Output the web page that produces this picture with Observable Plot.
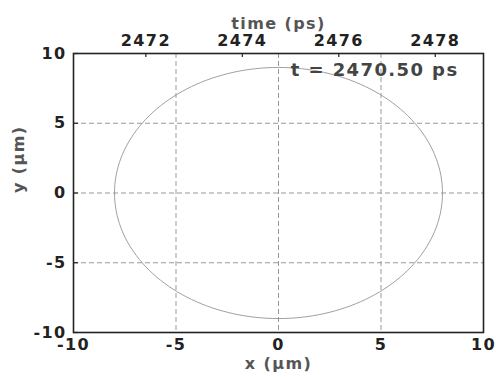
<!DOCTYPE html>
<html><head><meta charset="utf-8">
<script src="https://cdn.jsdelivr.net/npm/d3@7"></script>
<script src="https://cdn.jsdelivr.net/npm/@observablehq/plot@0.6"></script>
<style>body{margin:0;background:#fff} svg text{letter-spacing:1.4px}</style>
</head><body><div id="chart"></div>
<script>
const xDomain = [-10, 10];
const yDomain = [-10, 10];
const xTicks = [-10, -5, 0, 5, 10];
const yTicks = [-10, -5, 0, 5, 10];
const gridTicks = [-5, 0, 5];
const timeDomain = [2470.5, 2479];
const timeTicks = [2472, 2474, 2476, 2478];
const ellipseCenter = [0, 0];
const ellipseRadii = [8, 9];
const timeLabel = "t = 2470.50 ps";

const timeToX = d3.scaleLinear().domain(timeDomain).range(xDomain);
const angles = d3.range(0, 361, 2);
const ellipse = angles.map(a => ({
  x: ellipseCenter[0] + ellipseRadii[0] * Math.cos(a * Math.PI / 180),
  y: ellipseCenter[1] + ellipseRadii[1] * Math.sin(a * Math.PI / 180)
}));
const font = "DejaVu Sans, Verdana, sans-serif";

const chart = Plot.plot({
  width: 496, height: 377,
  marginLeft: 73, marginRight: 13, marginTop: 53, marginBottom: 45,
  style: {fontFamily: font, fontWeight: "bold", fontSize: "16px", color: "#222", background: "#fff"},
  x: {domain: xDomain},
  y: {domain: yDomain},
  marks: [
    Plot.gridX(gridTicks, {stroke: "#999", strokeOpacity: 1, strokeDasharray: "5,3"}),
    Plot.gridY(gridTicks, {stroke: "#999", strokeOpacity: 1, strokeDasharray: "5,3"}),
    Plot.line(ellipse, {x: "x", y: "y", stroke: "#a0a0a0", strokeWidth: 1, curve: "linear"}),
    Plot.ruleY(yTicks, {x1: -10, x2: -9.75, stroke: "#222", strokeWidth: 1.2}),
    Plot.ruleX(timeTicks.map(t => timeToX(t)), {y1: 10, y2: 9.72, stroke: "#222", strokeWidth: 1.2}),
    Plot.frame({stroke: "#222", strokeWidth: 1.6}),
    Plot.axisX(xTicks, {anchor: "bottom", tickSize: 0, tickPadding: 6, label: null, tickFormat: d => String(d),
      fontSize: 16, fontWeight: "bold", fill: "#222"}),
    Plot.axisY(yTicks, {anchor: "left", tickSize: 0, tickPadding: 7, label: null, tickFormat: d => String(d),
      fontSize: 16, fontWeight: "bold", fill: "#222"}),
    Plot.axisX(timeTicks.map(t => timeToX(t)), {anchor: "top", tickSize: 0, tickPadding: 8, label: null,
      tickFormat: d => String(Math.round(timeToX.invert(d))), fontSize: 16, fontWeight: "bold", fill: "#222"}),
    Plot.text(["time (ps)"], {frameAnchor: "top", dy: -36, fontSize: 16, fontWeight: "bold", fill: "#555"}),
    Plot.text(["x (μm)"], {frameAnchor: "bottom", dy: 36, fontSize: 16, fontWeight: "bold", fill: "#555"}),
    Plot.text(["y (μm)"], {frameAnchor: "left", dx: -55, rotate: -90, fontSize: 16, fontWeight: "bold", fill: "#555"}),
    Plot.text([timeLabel], {frameAnchor: "top-right", textAnchor: "end", dx: -25, dy: 10, fontSize: 18, fontWeight: "bold", fill: "#444"})
  ]
});
document.getElementById("chart").appendChild(chart);
</script>
</body></html>
